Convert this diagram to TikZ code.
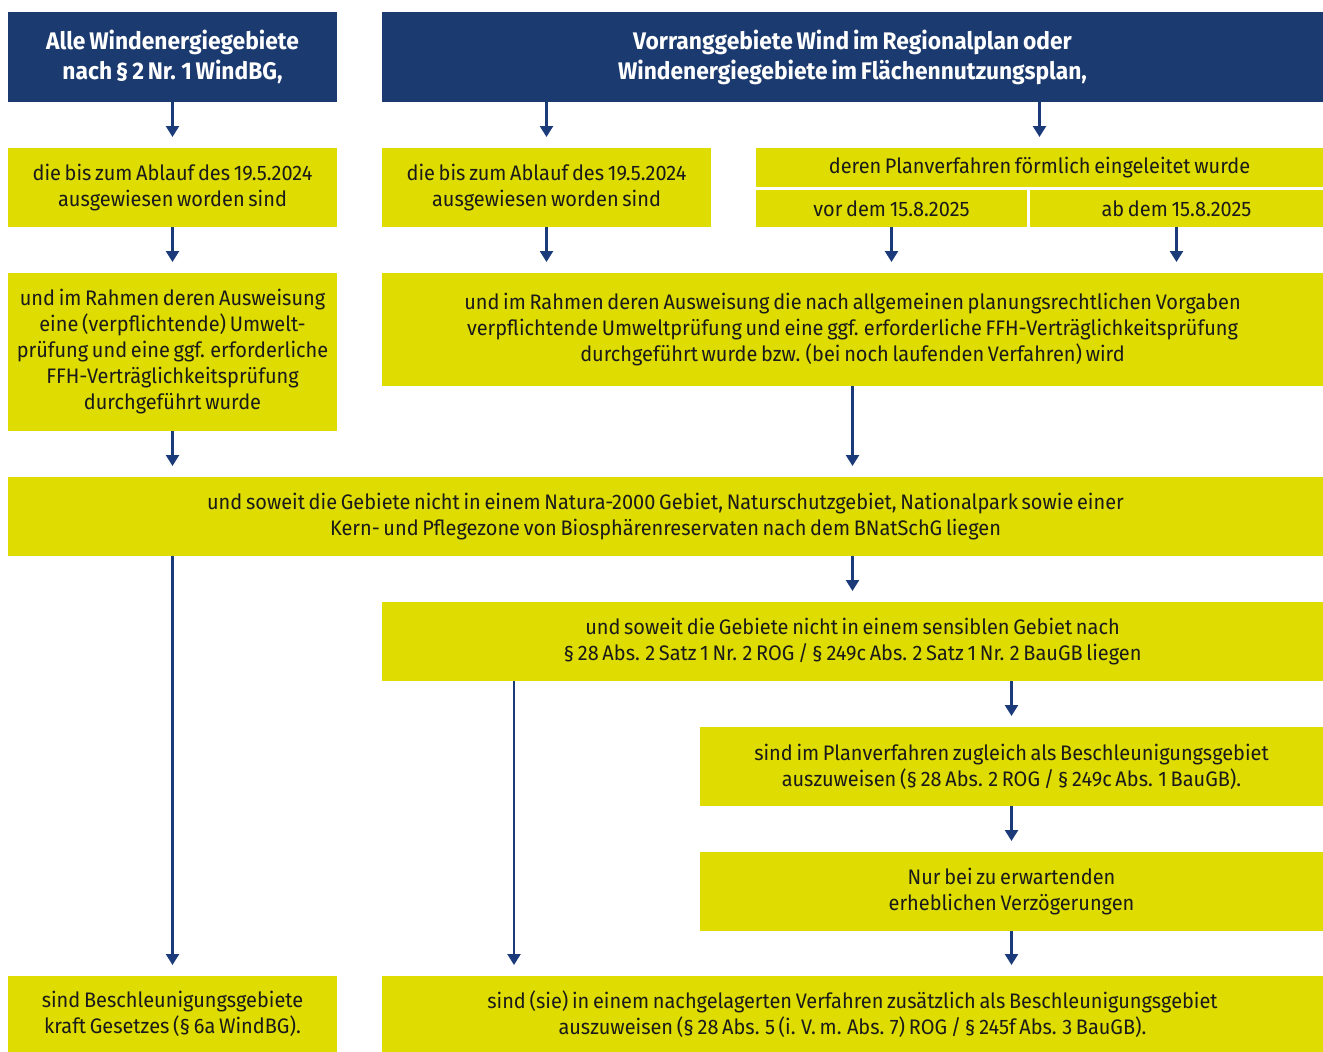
\documentclass[tikz,border=0pt]{standalone}
\usepackage{fontspec}
\setmainfont{Fira Sans}[FakeStretch=0.95,WordSpace=0.7]
\usetikzlibrary{arrows.meta,calc}
\definecolor{hdblue}{HTML}{1B3A6F}
\definecolor{ylw}{HTML}{DEDC00}
\definecolor{txt}{HTML}{1A1A1A}
\definecolor{arrc}{HTML}{1B3A7A}
\tikzset{
  base/.style={inner sep=0pt, outer sep=0pt, align=center, anchor=north west},
  hbox/.style={base, fill=hdblue, text=white, font=\fontsize{24}{30}\selectfont\bfseries},
  ybox/.style={base, fill=ylw, text=txt, font=\fontsize{21}{26}\selectfont},
  arr/.style={draw=arrc, line width=2.4pt, -{Triangle[width=13pt,length=11pt]}, shorten >=11pt},
}
\begin{document}
\begin{tikzpicture}[x=1pt,y=-1pt]
\useasboundingbox (0,0) rectangle (1323,1052);
% headers
\node[hbox, minimum width=329pt, minimum height=90pt] (h1) at (8,12) {Alle Windenergiegebiete\\nach § 2 Nr. 1 WindBG,};
\node[hbox, minimum width=941pt, minimum height=90pt] (h2) at (382,12) {Vorranggebiete Wind im Regionalplan oder\\Windenergiegebiete im Flächennutzungsplan,};
% row 2
\node[ybox, minimum width=329pt, minimum height=79pt] (l1) at (8,148) {die bis zum Ablauf des 19.5.2024\\ausgewiesen worden sind};
\node[ybox, minimum width=329pt, minimum height=79pt] (m1) at (382,148) {die bis zum Ablauf des 19.5.2024\\ausgewiesen worden sind};
\node[ybox, minimum width=567pt, minimum height=39pt] (rt) at (756,148) {deren Planverfahren förmlich eingeleitet wurde};
\node[ybox, minimum width=271pt, minimum height=37pt] (rb1) at (756,190) {vor dem 15.8.2025};
\node[ybox, minimum width=293pt, minimum height=37pt] (rb2) at (1030,190) {ab dem 15.8.2025};
% row 3
\node[ybox, minimum width=329pt, minimum height=158pt] (l2) at (8,273) {und im Rahmen deren Ausweisung\\eine (verpflichtende) Umwelt-\\prüfung und eine ggf. erforderliche\\FFH-Verträglichkeitsprüfung\\durchgeführt wurde};
\node[ybox, minimum width=941pt, minimum height=113pt] (m2) at (382,273) {und im Rahmen deren Ausweisung die nach allgemeinen planungsrechtlichen Vorgaben\\verpflichtende Umweltprüfung und eine ggf. erforderliche FFH-Verträglichkeitsprüfung\\durchgeführt wurde bzw. (bei noch laufenden Verfahren) wird};
% row 4
\node[ybox, minimum width=1315pt, minimum height=79pt] (big) at (8,477) {und soweit die Gebiete nicht in einem Natura-2000 Gebiet, Naturschutzgebiet, Nationalpark sowie einer\\Kern- und Pflegezone von Biosphärenreservaten nach dem BNatSchG liegen};
% row 5
\node[ybox, minimum width=941pt, minimum height=79pt] (r5) at (382,602) {und soweit die Gebiete nicht in einem sensiblen Gebiet nach\\§ 28 Abs. 2 Satz 1 Nr. 2 ROG / § 249c Abs. 2 Satz 1 Nr. 2 BauGB liegen};
% row 6
\node[ybox, minimum width=623pt, minimum height=79pt] (r6) at (700,727) {sind im Planverfahren zugleich als Beschleunigungsgebiet\\auszuweisen (§ 28 Abs. 2 ROG / § 249c Abs. 1 BauGB).};
% row 7
\node[ybox, minimum width=623pt, minimum height=79pt] (r7) at (700,852) {Nur bei zu erwartenden\\erheblichen Verzögerungen};
% row 8
\node[ybox, minimum width=329pt, minimum height=76pt] (bl) at (8,976) {sind Beschleunigungsgebiete\\kraft Gesetzes (§ 6a WindBG).};
\node[ybox, minimum width=941pt, minimum height=76pt] (br) at (382,976) {sind (sie) in einem nachgelagerten Verfahren zusätzlich als Beschleunigungsgebiet\\auszuweisen (§ 28 Abs. 5 (i. V. m. Abs. 7) ROG / § 245f Abs. 3 BauGB).};
\coordinate (s5) at ($(r5.south west)+(132,0)$);
% arrows
\draw[arr] (h1.south) -- (l1.north);
\draw[arr] (h2.south -| m1.north) -- (m1.north);
\draw[arr] (h2.south -| rt.north) -- (rt.north);
\draw[arr] (l1.south) -- (l2.north);
\draw[arr] (m1.south) -- (m1.south |- m2.north);
\draw[arr] (rb1.south) -- (rb1.south |- m2.north);
\draw[arr] (rb2.south) -- (rb2.south |- m2.north);
\draw[arr] (l2.south) -- (l2.south |- big.north);
\draw[arr] (m2.south) -- (m2.south |- big.north);
\draw[arr] (big.south -| r5.north) -- (r5.north);
\draw[arr] (big.south -| bl.north) -- (bl.north);
\draw[arr] (s5) -- (s5 |- br.north);
\draw[arr] (r5.south -| r6.north) -- (r6.north);
\draw[arr] (r6.south) -- (r7.north);
\draw[arr] (r7.south) -- (r7.south |- br.north);
\end{tikzpicture}
\end{document}
